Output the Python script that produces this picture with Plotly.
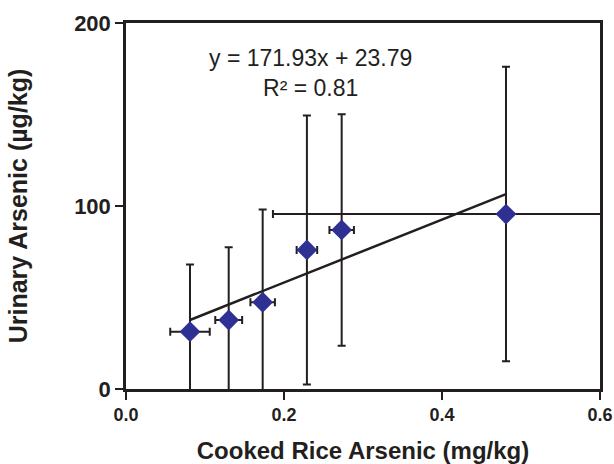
import plotly.graph_objects as go

rice_as = [0.081, 0.130, 0.173, 0.229, 0.273, 0.481]
rice_err = [0.025, 0.017, 0.0155, 0.013, 0.0155, 0.295]
urine_as = [31.3, 37.7, 47.4, 76.0, 86.9, 95.6]
urine_err = [36.8, 39.7, 50.7, 73.5, 63.3, 80.5]
slope, intercept = 171.93, 23.79
x_ticks = [0.0, 0.2, 0.4, 0.6]
x_labels = ["0.0", "0.2", "0.4", "0.6"]
y_ticks = [0, 100, 200]

ink = "#231f20"
font_family = "Liberation Sans, Arial, sans-serif"

fit_x = [min(rice_as), max(rice_as)]
fit_y = [slope * v + intercept for v in fit_x]

fig = go.Figure()
fig.add_trace(go.Scatter(
    x=fit_x, y=fit_y, mode="lines",
    line=dict(color=ink, width=2.5), hoverinfo="skip", showlegend=False))
fig.add_trace(go.Scatter(
    x=rice_as, y=urine_as, mode="markers",
    marker=dict(symbol="diamond", size=16, color="#2e3192"),
    error_y=dict(type="data", array=urine_err, symmetric=True, color=ink, thickness=2, width=4),
    error_x=dict(type="data", array=rice_err, symmetric=True, color=ink, thickness=2, width=4),
    showlegend=False))

fig.add_annotation(x=0.234, y=172.5, xref="x", yref="y", showarrow=False,
                   text="y = 171.93x + 23.79<br>R² = 0.81",
                   font=dict(family=font_family, size=23, color=ink), align="center")

axis_common = dict(showline=True, linecolor=ink, linewidth=2.5, mirror=True,
                   ticks="outside", tickcolor=ink, tickwidth=2, ticklen=8,
                   showgrid=False, zeroline=False, automargin=False)

fig.update_layout(
    width=614, height=464,
    margin=dict(l=126, r=14, t=23, b=75),
    paper_bgcolor="white", plot_bgcolor="white",
    xaxis=dict(range=[0, 0.6], tickvals=x_ticks, ticktext=x_labels,
               tickfont=dict(family=font_family, size=18, color=ink, weight="bold"),
               title=dict(text="Cooked Rice Arsenic (mg/kg)", standoff=20,
                          font=dict(family=font_family, size=24, color=ink, weight="bold")),
               **axis_common),
    yaxis=dict(range=[0, 200], tickvals=y_ticks,
               tickfont=dict(family=font_family, size=22, color=ink, weight="bold"),
               title=dict(text="Urinary Arsenic (µg/kg)", standoff=40,
                          font=dict(family=font_family, size=25, color=ink, weight="bold")),
               **axis_common),
)

fig.write_html("out.html", config={"displayModeBar": False},
               post_script="document.body.style.margin='0';document.body.style.overflow='hidden';")
